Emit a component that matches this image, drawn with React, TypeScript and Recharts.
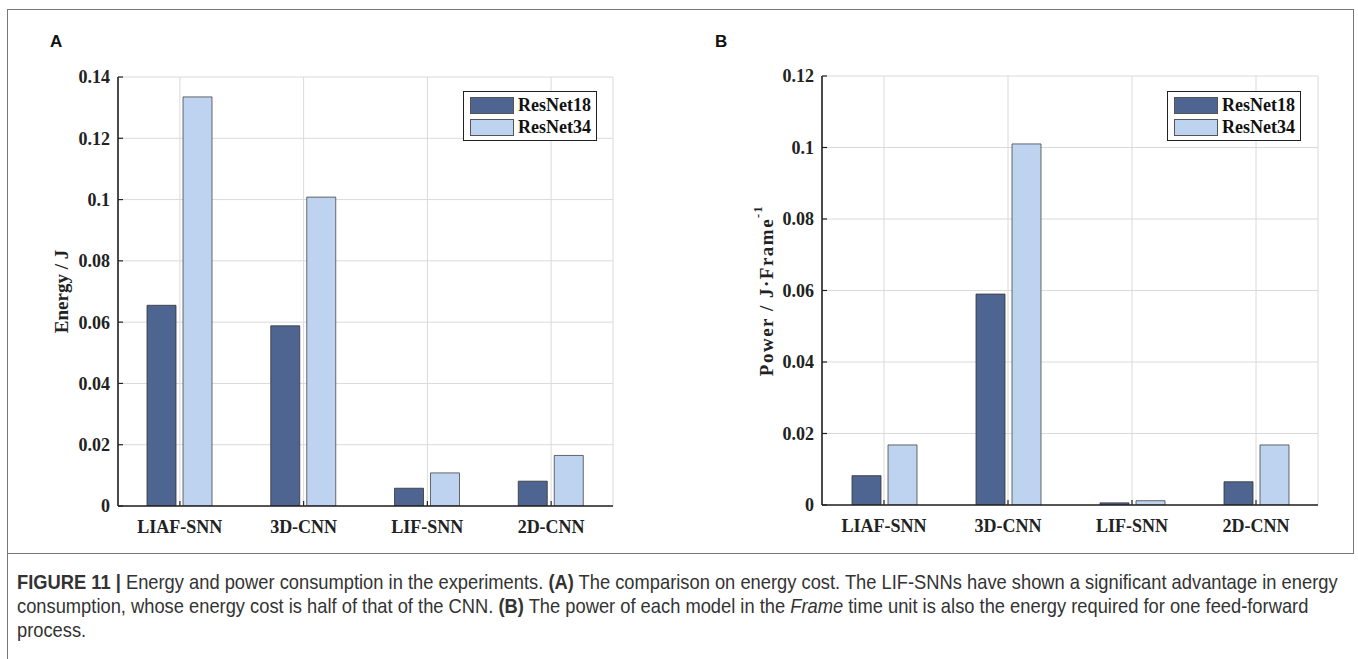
import React from "react";
import {
  Bar,
  BarChart,
  CartesianGrid,
  Legend,
  XAxis,
  YAxis,
} from "recharts";

const categories = ["LIAF-SNN", "3D-CNN", "LIF-SNN", "2D-CNN"];
const seriesNames = ["ResNet18", "ResNet34"];

// panel A: energy (J)
const energyResNet18 = [0.0655, 0.0588, 0.0058, 0.0081];
const energyResNet34 = [0.1335, 0.1008, 0.0108, 0.0165];
const energyTicks = [0, 0.02, 0.04, 0.06, 0.08, 0.1, 0.12, 0.14];

// panel B: power (J per frame)
const powerResNet18 = [0.0082, 0.059, 0.0006, 0.0065];
const powerResNet34 = [0.0168, 0.101, 0.0012, 0.0168];
const powerTicks = [0, 0.02, 0.04, 0.06, 0.08, 0.1, 0.12];

const DARK = "#4e6491";
const LIGHT = "#bdd3f0";
const AXIS = "#222";
const SERIF = "'Liberation Serif', 'Times New Roman', serif";

const energyData = categories.map((name, i) => ({
  name,
  r18: energyResNet18[i],
  r34: energyResNet34[i],
}));
const powerData = categories.map((name, i) => ({
  name,
  r18: powerResNet18[i],
  r34: powerResNet34[i],
}));

const fmt = (v: number) => String(Number(v.toFixed(2)));

const tickFont = {
  fontFamily: SERIF,
  fontWeight: 700,
  fontSize: 18,
  fill: AXIS,
};

function LegendBox() {
  const row = (color: string, label: string) => (
    <div style={{ display: "flex", alignItems: "center", height: 19 }}>
      <div
        style={{
          width: 42,
          height: 15,
          background: color,
          border: "1px solid #555",
          marginRight: 4,
        }}
      />
      <span
        style={{
          fontFamily: SERIF,
          fontWeight: 700,
          fontSize: 18,
          color: "#111",
          lineHeight: "19px",
        }}
      >
        {label}
      </span>
    </div>
  );
  return (
    <div
      style={{
        border: "1.5px solid #222",
        background: "#fff",
        padding: "4px 5px 3px 6px",
        display: "flex",
        flexDirection: "column",
        gap: 3,
      }}
    >
      {row(DARK, seriesNames[0])}
      {row(LIGHT, seriesNames[1])}
    </div>
  );
}

function Panel({
  data,
  ticks,
  width,
  height,
  margin,
  yLabel,
  labelX,
  labelSpacing,
  legendPos,
}: {
  data: { name: string; r18: number; r34: number }[];
  ticks: number[];
  width: number;
  height: number;
  margin: { top: number; right: number; bottom: number; left: number };
  yLabel: React.ReactNode;
  labelX: number;
  labelSpacing: number;
  legendPos: { left: number; top: number };
}) {
  const max = ticks[ticks.length - 1];
  return (
    <BarChart
      width={width}
      height={height}
      data={data}
      margin={margin}
      barSize={29}
      barGap={7}
    >
      <CartesianGrid stroke="#dadada" strokeWidth={1} />
      <XAxis
        dataKey="name"
        height={36}
        tick={tickFont}
        tickSize={-5}
        tickMargin={19}
        axisLine={{ stroke: AXIS, strokeWidth: 1.6 }}
        tickLine={{ stroke: AXIS, strokeWidth: 1.2 }}
        interval={0}
      />
      <XAxis
        xAxisId="top"
        orientation="top"
        dataKey="name"
        height={0}
        tick={false}
        tickSize={-5}
        axisLine={{ stroke: AXIS, strokeWidth: 1.6 }}
        tickLine={{ stroke: AXIS, strokeWidth: 1.2 }}
      />
      <YAxis
        width={60}
        domain={[0, max]}
        ticks={ticks}
        tickFormatter={fmt}
        tick={tickFont}
        tickSize={-5}
        tickMargin={13}
        axisLine={{ stroke: AXIS, strokeWidth: 1.6 }}
        tickLine={{ stroke: AXIS, strokeWidth: 1.2 }}
        allowDataOverflow
        label={{
          content: (props: any) => {
            const vb = props.viewBox || {};
            const cy = (vb.y ?? 0) + (vb.height ?? 0) / 2;
            return (
              <text
                x={labelX}
                y={cy}
                transform={`rotate(-90 ${labelX} ${cy})`}
                textAnchor="middle"
                dominantBaseline="central"
                fontFamily={SERIF}
                fontWeight={700}
                fontSize={19}
                letterSpacing={labelSpacing}
                fill={AXIS}
              >
                {yLabel}
              </text>
            );
          },
        }}
      />
      <YAxis
        yAxisId="right"
        orientation="right"
        width={0}
        domain={[0, max]}
        ticks={ticks}
        tick={false}
        tickSize={-5}
        axisLine={{ stroke: AXIS, strokeWidth: 1.6 }}
        tickLine={{ stroke: AXIS, strokeWidth: 1.2 }}
      />
      <Legend
        layout="vertical"
        align="center"
        verticalAlign="middle"
        content={() => <LegendBox />}
        wrapperStyle={{
          position: "absolute",
          left: legendPos.left,
          top: legendPos.top,
          width: "auto",
        }}
      />
      <Bar
        dataKey="r18"
        name={seriesNames[0]}
        fill={DARK}
        stroke="#333"
        strokeWidth={0.8}
        isAnimationActive={false}
      />
      <Bar
        dataKey="r34"
        name={seriesNames[1]}
        fill={LIGHT}
        stroke="#444"
        strokeWidth={0.8}
        isAnimationActive={false}
      />
    </BarChart>
  );
}

const letterStyle: React.CSSProperties = {
  position: "absolute",
  fontFamily: "'Liberation Sans', Arial, sans-serif",
  fontWeight: 700,
  fontSize: 17,
  color: "#111",
};

const captionLine: React.CSSProperties = {
  whiteSpace: "nowrap",
  transform: "scaleX(0.872)",
  transformOrigin: "0 0",
  height: 24,
};

function Caption() {
  return (
    <div
      style={{
        position: "absolute",
        left: 17,
        top: 570,
        width: 1320,
        fontFamily: "'Liberation Sans', Arial, sans-serif",
        fontSize: 21,
        lineHeight: "24px",
        color: "#333",
      }}
    >
      <div style={captionLine}>
        <b>FIGURE 11 |</b> Energy and power consumption in the experiments.{" "}
        <b>(A)</b> The comparison on energy cost. The LIF-SNNs have shown a
        significant advantage in energy
      </div>
      <div style={captionLine}>
        consumption, whose energy cost is half of that of the CNN. <b>(B)</b>{" "}
        The power of each model in the <i>Frame</i> time unit is also the
        energy required for one feed-forward
      </div>
      <div style={captionLine}>process.</div>
    </div>
  );
}

export default function App() {
  return (
    <div
      style={{
        position: "absolute",
        left: 0,
        top: 0,
        width: 1358,
        height: 659,
        background: "#fff",
        overflow: "hidden",
      }}
    >
      {/* figure frame */}
      <div
        style={{
          position: "absolute",
          left: 7,
          top: 9,
          width: 1345,
          height: 543,
          border: "1px solid #777",
        }}
      />
      <div
        style={{
          position: "absolute",
          left: 7,
          top: 553,
          width: 1,
          height: 106,
          background: "#777",
        }}
      />
      <div style={{ ...letterStyle, left: 50, top: 32 }}>A</div>
      <div style={{ ...letterStyle, left: 715, top: 32 }}>B</div>

      <div style={{ position: "absolute", left: 0, top: 0 }}>
        <Panel
          data={energyData}
          ticks={energyTicks}
          width={640}
          height={545}
          margin={{ top: 77, right: 27, bottom: 3, left: 58 }}
          yLabel="Energy / J"
          labelX={61}
          labelSpacing={0}
          legendPos={{ left: 463, top: 91 }}
        />
      </div>

      <div style={{ position: "absolute", left: 680, top: 0 }}>
        <Panel
          data={powerData}
          ticks={powerTicks}
          width={670}
          height={545}
          margin={{ top: 76, right: 32, bottom: 4, left: 82 }}
          yLabel={
            <>
              Power / J·Frame
              <tspan dy={-8} fontSize={12}>
                -1
              </tspan>
            </>
          }
          labelX={86}
          labelSpacing={1.5}
          legendPos={{ left: 487, top: 91 }}
        />
      </div>

      <Caption />
    </div>
  );
}
